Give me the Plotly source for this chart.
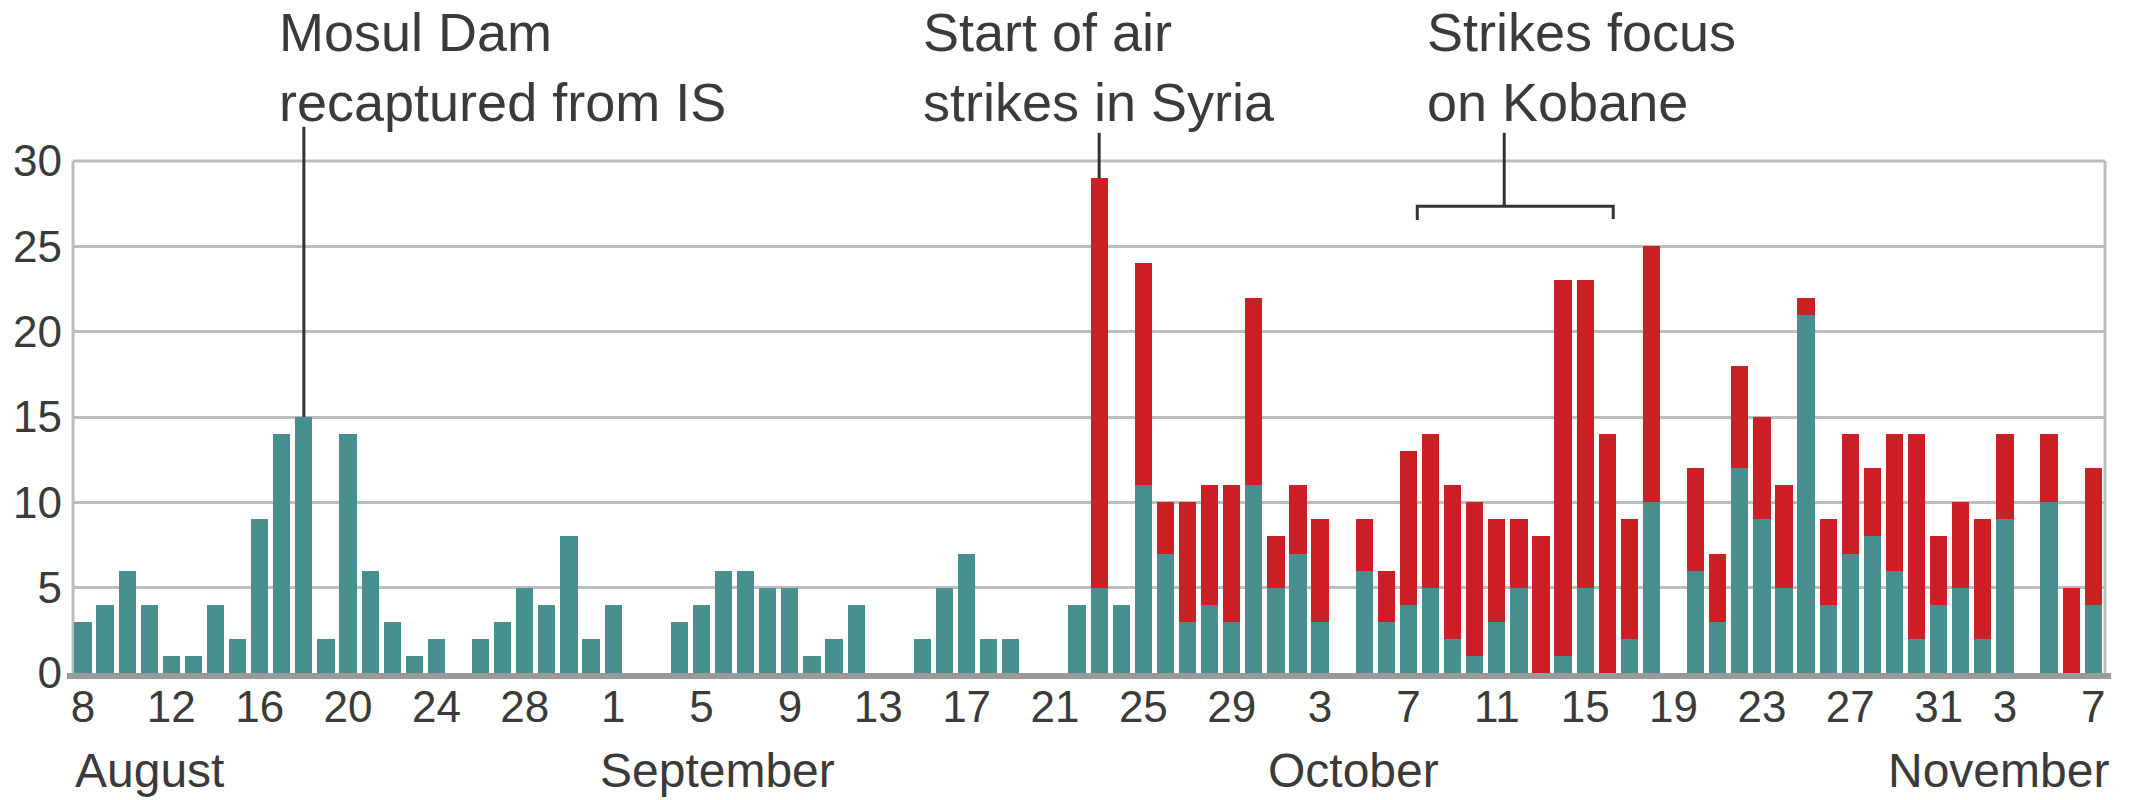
import plotly.graph_objects as go
import pandas as pd

# ---- data ----
dates = [d.strftime("%Y-%m-%d") for d in pd.date_range("2014-08-08", "2014-11-07")]
iraq = [3, 4, 6, 4, 1, 1, 4, 2, 9, 14, 15, 2, 14, 6, 3, 1, 2, 0, 2, 3, 5, 4, 8, 2,
        4, 0, 0, 3, 4, 6, 6, 5, 5, 1, 2, 4, 0, 0, 2, 5, 7, 2, 2, 0, 0, 4, 5, 4, 11, 7, 3, 4, 3, 11,
        5, 7, 3, 0, 6, 3, 4, 5, 2, 1, 3, 5, 0, 1, 5, 0, 2, 10, 0, 6, 3, 12, 9, 5, 21, 4, 7, 8, 6, 2, 4,
        5, 2, 9, 0, 10, 0, 4]
syria = [0] * 24 + [0] * 22 + [24, 0, 13, 3, 7, 7, 8, 11] + \
        [3, 4, 6, 0, 3, 3, 9, 9, 9, 9, 6, 4, 8, 22, 18, 14, 7, 15, 0, 6, 4, 6, 6, 6, 1, 5, 7, 4, 8, 12, 4] + \
        [5, 7, 5, 0, 4, 5, 8]
tick_dates = ["2014-08-08", "2014-08-12", "2014-08-16", "2014-08-20", "2014-08-24", "2014-08-28",
              "2014-09-01", "2014-09-05", "2014-09-09", "2014-09-13", "2014-09-17", "2014-09-21",
              "2014-09-25", "2014-09-29", "2014-10-03", "2014-10-07", "2014-10-11", "2014-10-15",
              "2014-10-19", "2014-10-23", "2014-10-27", "2014-10-31", "2014-11-03", "2014-11-07"]
tick_labels = ["8", "12", "16", "20", "24", "28", "1", "5", "9", "13", "17", "21", "25", "29",
               "3", "7", "11", "15", "19", "23", "27", "31", "3", "7"]
months = ["August", "September", "October", "November"]
month_starts = ["2014-08-08", "2014-09-01", "2014-10-01", "2014-11-01"]

TEAL = "#47908f"
RED = "#cc1f26"
FONT = "Liberation Sans, Arial, sans-serif"
TXT = "#3a3a3a"

W, H = 2131, 800
ML, MT = 73, 161
PW, PH = 2032, 512
MR, MB = W - ML - PW, H - MT - PH
X0, X1 = -0.45, 91.53
Y0, Y1 = 0, 30

idx = list(range(len(dates)))
pos = {d: i for i, d in enumerate(dates)}
total = [a + b for a, b in zip(iraq, syria)]


def xp(i):
    return (i - X0) / (X1 - X0)


def yp(v):
    return (v - Y0) / (Y1 - Y0)


def px_x(px):  # page px -> paper
    return (px - ML) / PW


def px_y(py):
    return (MT + PH - py) / PH


fig = go.Figure()
fig.add_trace(go.Bar(x=idx, y=iraq, name="Iraq", marker=dict(color=TEAL, line=dict(width=0))))
fig.add_trace(go.Bar(x=idx, y=syria, name="Syria", marker=dict(color=RED, line=dict(width=0))))

shapes = []
for (xa, ya, xb, yb) in [(0, 0, 0, 1), (0, 1, 1, 1), (1, 1, 1, 0)]:
    shapes.append(dict(type="line", xref="paper", yref="paper", x0=xa, y0=ya, x1=xb, y1=yb,
                       line=dict(color="#bdbdbd", width=3), layer="below"))
shapes.append(dict(type="line", xref="paper", yref="paper", x0=-0.003, x1=1.003, y0=-0.006, y1=-0.006,
                   line=dict(color="#999999", width=6), layer="above"))

# Mosul Dam pointer
i_m = pos["2014-08-18"]
shapes.append(dict(type="line", xref="paper", yref="paper", x0=xp(i_m), x1=xp(i_m),
                   y0=yp(total[i_m]), y1=yp(32.0), line=dict(color="#333333", width=3)))
# Syria pointer
i_s = pos["2014-09-23"]
shapes.append(dict(type="line", xref="paper", yref="paper", x0=xp(i_s), x1=xp(i_s),
                   y0=yp(total[i_s]), y1=yp(31.65), line=dict(color="#333333", width=3)))
# Kobane bracket
b0, b1 = pos["2014-10-07"] + 0.4, pos["2014-10-16"] + 0.27
bm = (b0 + b1) / 2 - 0.5
by = 27.35
shapes.append(dict(type="path", xref="paper", yref="paper",
                   path=f"M {xp(b0)},{yp(by - 0.8)} L {xp(b0)},{yp(by)} L {xp(b1)},{yp(by)} L {xp(b1)},{yp(by - 0.75)}",
                   line=dict(color="#333333", width=3)))
shapes.append(dict(type="line", xref="paper", yref="paper", x0=xp(bm), x1=xp(bm),
                   y0=yp(by), y1=yp(31.65), line=dict(color="#333333", width=3)))

annotations = []
ann_specs = [("Mosul Dam<br>recaptured from IS", 277),
             ("Start of air<br>strikes in Syria", 921),
             ("Strikes focus<br>on Kobane", 1425)]
for txt, px in ann_specs:
    annotations.append(dict(text=txt, xref="paper", yref="paper", x=px_x(px),
                            y=px_y(134), xanchor="left", yanchor="bottom",
                            align="left", showarrow=False,
                            font=dict(family=FONT, size=54, color=TXT)))

MONTH_Y = px_y(770)
for m, d in zip(months, month_starts):
    i = pos[d]
    if m == "November":
        annotations.append(dict(text=m, xref="paper", yref="paper", x=1.003, xanchor="right",
                                y=MONTH_Y, yanchor="middle", showarrow=False,
                                font=dict(family=FONT, size=48, color=TXT)))
    else:
        off = -0.45 if m != "September" else -0.7
        annotations.append(dict(text=m, xref="x", yref="paper", x=i + off, xanchor="left",
                                y=MONTH_Y, yanchor="middle", showarrow=False,
                                font=dict(family=FONT, size=48, color=TXT)))

fig.update_layout(
    width=W, height=H, barmode="stack", bargap=0.22, showlegend=False,
    margin=dict(l=ML, r=MR, t=MT, b=MB, pad=0),
    paper_bgcolor="white", plot_bgcolor="white",
    font=dict(family=FONT, color=TXT, size=44),
    xaxis=dict(range=[X0, X1], tickmode="array", tickvals=[pos[d] for d in tick_dates],
               ticktext=tick_labels, showgrid=False, zeroline=False, showline=False,
               ticks="", ticklabelstandoff=4, tickfont=dict(size=44, color=TXT)),
    yaxis=dict(range=[Y0, Y1], tickvals=[0, 5, 10, 15, 20, 25, 30], showgrid=True,
               gridcolor="#bdbdbd", gridwidth=3, zeroline=False, showline=False, ticks="",
               ticklabelstandoff=10, tickfont=dict(size=44, color=TXT)),
    shapes=shapes, annotations=annotations,
)

fig.write_html("out.html", config={"displayModeBar": False},
               post_script="document.body.style.margin='0';document.body.style.overflow='hidden';")
